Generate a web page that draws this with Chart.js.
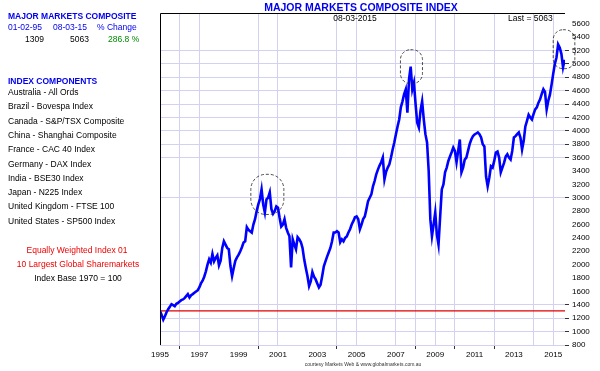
<!DOCTYPE html>
<html>
<head>
<meta charset="utf-8">
<script src="https://cdn.jsdelivr.net/npm/chart.js@4"></script>
<style>
  body { margin: 0; background: #fff; }
  #wrap { position: relative; width: 600px; height: 371px; font-family: "Liberation Sans", Arial, sans-serif; }
  #chart { position: absolute; left: 0; top: 0; }
  .t { position: absolute; white-space: nowrap; font-size: 8.5px; line-height: 10px; color: #000; }
  .blue { color: #0000ee; }
  .b { font-weight: bold; }
  .red { color: #ee0000; }
  .green { color: #008c00; }
  .c { transform: translateX(-50%); }
</style>
</head>
<body>
<div id="wrap">
  <canvas id="chart" width="600" height="371"></canvas>

  <div class="t blue b c" style="left:361px; top:1px; font-size:10.5px; line-height:12px;">MAJOR MARKETS COMPOSITE INDEX</div>
  <div class="t c" style="left:355px; top:13px;">08-03-2015</div>
  <div class="t" style="left:508px; top:13px;">Last = 5063</div>

  <div class="t blue b" style="left:8px; top:11px;">MAJOR MARKETS COMPOSITE</div>
  <div class="t blue" style="left:8px; top:22px;">01-02-95</div>
  <div class="t blue" style="left:53px; top:22px;">08-03-15</div>
  <div class="t blue" style="left:97px; top:22px;">% Change</div>
  <div class="t" style="left:25px; top:34px;">1309</div>
  <div class="t" style="left:70px; top:34px;">5063</div>
  <div class="t green" style="left:108px; top:34px;">286.8 %</div>

  <div class="t blue b" style="left:8px; top:76px;">INDEX COMPONENTS</div>
  <div id="components"></div>

  <div class="t red c" style="left:77px; top:245px;">Equally Weighted Index 01</div>
  <div class="t red c" style="left:78px; top:259px;">10 Largest Global Sharemarkets</div>
  <div class="t c" style="left:78px; top:273px;">Index Base 1970 = 100</div>

  <div class="t c" style="left:363px; top:361px; font-size:5px; line-height:6px; color:#333;">courtesy Markets Web &amp; www.globalmarkets.com.au</div>
</div>
<script>
// index components listed on the left
const components = [
    "Australia - All Ords",
    "Brazil - Bovespa Index",
    "Canada - S&P/TSX Composite",
    "China - Shanghai Composite",
    "France - CAC 40 Index",
    "Germany - DAX Index",
    "India - BSE30 Index",
    "Japan - N225 Index",
    "United Kingdom - FTSE 100",
    "United States - SP500 Index"
];

// monthly index values, Jan 1995 .. Aug 2015
const startYear = 1995;
const values = [
    1309, 1250, 1180, 1230, 1290, 1335, 1370, 1410, 1395, 1380, 1415, 1430, // 1995
    1450, 1470, 1480, 1500, 1530, 1560, 1510, 1545, 1560, 1580, 1600, 1615, // 1996
    1660, 1720, 1760, 1820, 1900, 2000, 2080, 2030, 2160, 2050, 2100, 2140, // 1997
    1990, 2060, 2250, 2350, 2300, 2250, 2230, 1980, 1830, 1950, 2060, 2110, // 1998
    2150, 2200, 2260, 2330, 2350, 2560, 2520, 2500, 2480, 2600, 2680, 2800, // 1999
    2900, 2980, 3125, 2900, 2780, 2975, 3000, 3080, 2830, 2760, 2800, 2870, // 2000
    2850, 2700, 2570, 2600, 2680, 2550, 2480, 2425, 1960, 2380, 2300, 2230, // 2001
    2410, 2380, 2335, 2250, 2080, 1950, 1830, 1680, 1750, 1890, 1820, 1780, // 2002
    1720, 1660, 1700, 1830, 1975, 2050, 2120, 2185, 2250, 2350, 2480, 2480, // 2003
    2500, 2480, 2335, 2380, 2350, 2400, 2420, 2480, 2530, 2600, 2650, 2710, // 2004
    2720, 2680, 2530, 2600, 2680, 2720, 2830, 2950, 3000, 3050, 3170, 3250, // 2005
    3350, 3420, 3480, 3530, 3600, 3275, 3390, 3450, 3500, 3600, 3720, 3825, // 2006
    3950, 4065, 4170, 4350, 4440, 4550, 4620, 4270, 4770, 4960, 4620, 4720, // 2007
    4400, 4120, 4050, 4300, 4440, 4170, 3950, 3825, 3400, 2680, 2425, 2600, // 2008
    2780, 2450, 2300, 2720, 3125, 3200, 3380, 3450, 3550, 3615, 3680, 3750, // 2009
    3700, 3530, 3700, 3870, 3380, 3450, 3570, 3600, 3700, 3800, 3870, 3920, // 2010
    3945, 3960, 3975, 3950, 3900, 3800, 3765, 3320, 3170, 3300, 3470, 3450, // 2011
    3550, 3675, 3690, 3600, 3380, 3450, 3520, 3615, 3650, 3600, 3570, 3700, // 2012
    3900, 3920, 3950, 3975, 3900, 3720, 3850, 4065, 4150, 4240, 4200, 4170, // 2013
    4250, 4320, 4350, 4420, 4470, 4550, 4620, 4580, 4320, 4450, 4540, 4690, // 2014
    4850, 5000, 5095, 5290, 5240, 5150, 4950, 5063                          // 2015
];
const baseValue = values[0];

// axis ticks
const xTicks = [1995, 1996, 1997, 1998, 1999, 2000, 2001, 2002, 2003, 2004, 2005,
    2006, 2007, 2008, 2009, 2010, 2011, 2012, 2013, 2014, 2015];
const yTicks = [800, 1000, 1200, 1400, 1600, 1800, 2000, 2200, 2400, 2600, 2800, 3000,
    3200, 3400, 3600, 3800, 4000, 4200, 4400, 4600, 4800, 5000, 5200, 5400, 5600];

// which ticks get a grid line
const gridYears = [1996, 1997, 2000, 2001, 2004, 2005, 2007, 2008, 2009, 2010, 2012, 2014, 2015];
const markYears = [1996, 2000, 2004, 2008, 2010, 2012];
const gridLevels = [800, 1000, 1200, 1400, 3000, 3600, 3800, 4000, 4200, 4400, 4600, 4800, 5000, 5200];

// highlighted peaks (year range, value range)
const peaks = [
    { x0: 1999.62, x1: 2001.3, y0: 2750, y1: 3350 },
    { x0: 2007.23, x1: 2008.35, y0: 4705, y1: 5212 },
    { x0: 2015.0, x1: 2016.1, y0: 4928, y1: 5510 }
];

const compBox = document.getElementById("components");
components.forEach((name, i) => {
    const d = document.createElement("div");
    d.className = "t";
    d.style.left = "8px";
    d.style.top = (87 + i * 14.3) + "px";
    d.textContent = name;
    compBox.appendChild(d);
});

const points = values.map((v, i) => ({ x: startYear + i / 12, y: v }));
const xEnd = 2015.6;

const GRID = "#d2d2f0";

const framePlugin = {
    id: "frame",
    afterDatasetsDraw(chart) {
        const { ctx, chartArea: a, scales } = chart;
        ctx.save();
        // peak markers
        ctx.strokeStyle = "#222";
        ctx.lineWidth = 0.8;
        ctx.setLineDash([3, 2]);
        peaks.forEach(p => {
            const l = scales.x.getPixelForValue(p.x0);
            const r = scales.x.getPixelForValue(p.x1);
            const t = scales.y.getPixelForValue(p.y1);
            const b = scales.y.getPixelForValue(p.y0);
            ctx.beginPath();
            ctx.roundRect(l, t, r - l, b - t, Math.min(r - l, b - t) / 2.2);
            ctx.stroke();
        });
        ctx.setLineDash([]);
        // left and top border
        ctx.strokeStyle = "#000";
        ctx.lineWidth = 1;
        ctx.beginPath();
        ctx.moveTo(a.left + 0.5, a.bottom);
        ctx.lineTo(a.left + 0.5, a.top + 0.5);
        ctx.lineTo(a.right, a.top + 0.5);
        ctx.stroke();
        ctx.restore();
    }
};

new Chart(document.getElementById("chart"), {
    type: "line",
    data: {
        datasets: [{
            label: "Composite",
            data: points,
            borderColor: "#0000ff",
            borderWidth: 2.6,
            pointRadius: 0,
            tension: 0
        }, {
            label: "Base",
            data: [{ x: startYear, y: baseValue }, { x: xEnd, y: baseValue }],
            borderColor: "#e00000",
            borderWidth: 1.2,
            pointRadius: 0
        }]
    },
    options: {
        responsive: false,
        animation: false,
        devicePixelRatio: 1,
        layout: { padding: { left: 160, top: 13, right: 0, bottom: 0 } },
        plugins: {
            legend: { display: false },
            tooltip: { enabled: false }
        },
        scales: {
            x: {
                type: "linear",
                min: startYear,
                max: xEnd,
                afterBuildTicks: s => { s.ticks = xTicks.map(v => ({ value: v })); },
                afterFit: s => { s.height = 26; },
                border: { display: false },
                grid: {
                    color: c => gridYears.includes(c.tick.value) ? GRID : "rgba(0,0,0,0)",
                    tickColor: c => markYears.includes(c.tick.value) ? "#333" : "rgba(0,0,0,0)",
                    tickLength: 4
                },
                ticks: {
                    autoSkip: false,
                    maxRotation: 0,
                    padding: 1,
                    color: "#000",
                    font: { family: "Liberation Sans", size: 8 },
                    callback: v => (v % 2 === 1 ? String(v) : "")
                }
            },
            y: {
                position: "right",
                min: 800,
                max: 5760,
                afterBuildTicks: s => { s.ticks = yTicks.map(v => ({ value: v })); },
                afterFit: s => { s.width = 35; },
                border: { display: false },
                grid: {
                    color: c => gridLevels.includes(c.tick.value) ? GRID : "rgba(0,0,0,0)",
                    tickColor: c => gridLevels.includes(c.tick.value) ? "#333" : "rgba(0,0,0,0)",
                    tickLength: 4
                },
                ticks: {
                    padding: 3,
                    color: "#000",
                    font: { family: "Liberation Sans", size: 8 },
                    callback: v => String(v)
                }
            }
        }
    },
    plugins: [framePlugin]
});
</script>
</body>
</html>
